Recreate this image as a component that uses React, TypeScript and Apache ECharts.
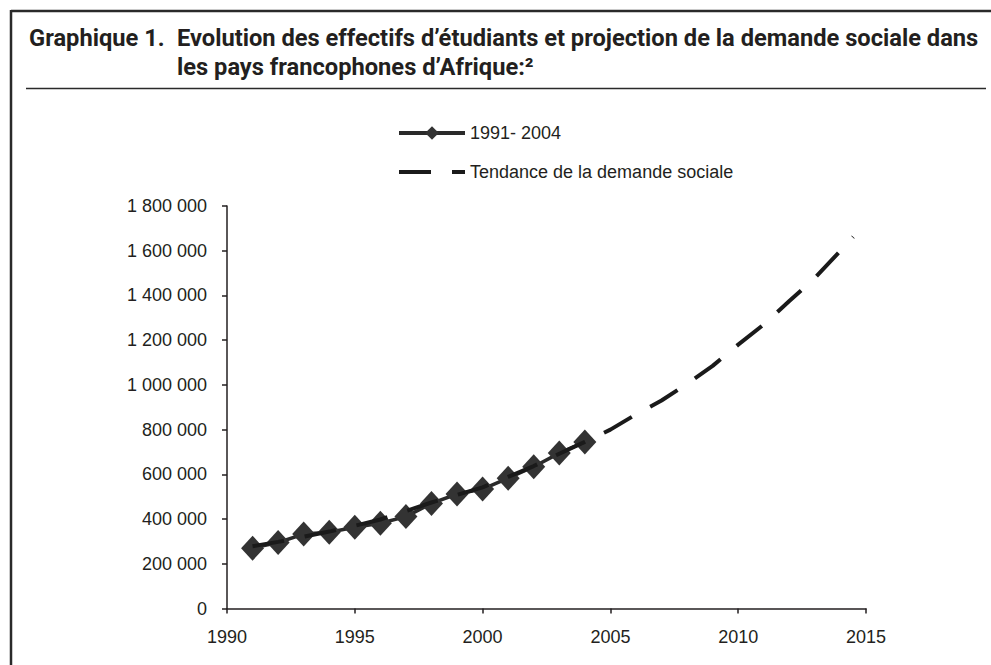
import React, { useEffect, useRef } from "react";
import * as echarts from "echarts";

const years = [1991, 1992, 1993, 1994, 1995, 1996, 1997, 1998, 1999, 2000, 2001, 2002, 2003, 2004];
const students = [270000, 295000, 333000, 341000, 363000, 381000, 411000, 470000, 512000, 534000, 583000, 634000, 695000, 745000];

const trendYears = [1991, 1992, 1993, 1994, 1995, 1996, 1997, 1998, 1999, 2000, 2001, 2002, 2003, 2004, 2005, 2006, 2007, 2008, 2009, 2010, 2011, 2012, 2013, 2014, 2014.5];
const trendValues = [278000, 298000, 321000, 344000, 370000, 398000, 436000, 474000, 508000, 542000, 589000, 637000, 692000, 745000, 800000, 868000, 930000, 1005000, 1085000, 1180000, 1270000, 1375000, 1478000, 1600000, 1662000];

const seriesNames = ["1991- 2004", "Tendance de la demande sociale"];
const titleLabel = "Graphique 1.";
const titleLine1 = "Evolution des effectifs d\u2019étudiants et projection de la demande sociale dans";
const titleLine2 = "les pays francophones d\u2019Afrique:\u00B2";

const INK = "#231f20";
const TITLE_FONT = "Roboto";
const TITLE_SIZE = 23.5;

const fmt = (v: number) => String(v).replace(/\B(?=(\d{3})+(?!\d))/g, " ");

function measure(text: string): number {
  const c = document.createElement("canvas");
  const ctx = c.getContext("2d");
  if (!ctx) return text.length * 10;
  ctx.font = `bold ${TITLE_SIZE}px ${TITLE_FONT}`;
  return ctx.measureText(text).width;
}

export default function App() {
  const ref = useRef<HTMLDivElement>(null);
  useEffect(() => {
    if (!ref.current) return;
    const chart = echarts.init(ref.current, null, { renderer: "svg" });
    const w = measure(titleLine1);
    const sx = w > 0 ? 801 / w : 0.8;
    const titleFont = {
      fontFamily: TITLE_FONT,
      fontWeight: "bold" as const,
      fontSize: TITLE_SIZE,
      fill: INK,
      verticalAlign: "middle" as const,
    };
    chart.setOption({
      animation: false,
      backgroundColor: "#ffffff",
      textStyle: { fontFamily: "Liberation Sans, Arial, sans-serif" },
      graphic: [
        { type: "line", shape: { x1: 11, y1: 11, x2: 991, y2: 11 }, style: { stroke: "#2a2a2a", lineWidth: 2.5 } },
        { type: "line", shape: { x1: 11, y1: 10, x2: 11, y2: 665 }, style: { stroke: "#2a2a2a", lineWidth: 2.5 } },
        { type: "line", shape: { x1: 26, y1: 88.5, x2: 986, y2: 88.5 }, style: { stroke: "#2a2a2a", lineWidth: 1.5 } },
        { type: "text", x: 29, y: 38.5, scaleX: sx, style: { ...titleFont, text: titleLabel } },
        { type: "text", x: 177, y: 38.5, scaleX: sx, style: { ...titleFont, text: titleLine1 } },
        { type: "text", x: 177, y: 67.5, scaleX: sx, style: { ...titleFont, text: titleLine2 } },
      ],
      legend: {
        orient: "vertical",
        left: 392,
        top: 119,
        itemWidth: 66,
        itemHeight: 17,
        itemGap: 21,
        textStyle: { fontSize: 18, color: INK, fontFamily: "Liberation Sans, Arial, sans-serif" },
        data: [
          { name: seriesNames[0], lineStyle: { width: 4 } },
          { name: seriesNames[1], itemStyle: { opacity: 0 }, lineStyle: { width: 4 } },
        ],
      },
      grid: { left: 227, top: 206, width: 639, height: 402.5, containLabel: false },
      xAxis: {
        type: "value",
        min: 1990,
        max: 2015,
        interval: 5,
        axisLine: { lineStyle: { color: INK, width: 1.5 } },
        axisTick: { show: true, length: 5, lineStyle: { color: INK, width: 1.5 } },
        axisLabel: { fontSize: 18, color: INK, margin: 19, formatter: (v: number) => String(v) },
        splitLine: { show: false },
      },
      yAxis: {
        type: "value",
        min: 0,
        max: 1800000,
        interval: 200000,
        axisLine: { show: true, lineStyle: { color: INK, width: 1.5 } },
        axisTick: { show: true, length: 5, lineStyle: { color: INK, width: 1.5 } },
        axisLabel: { fontSize: 18, color: INK, margin: 20, formatter: fmt },
        splitLine: { show: false },
      },
      series: [
        {
          name: seriesNames[0],
          type: "line",
          data: years.map((y, i) => [y, students[i]]),
          symbol: "diamond",
          symbolSize: [23, 25],
          itemStyle: { color: "#333333" },
          lineStyle: { color: "#2a2a2a", width: 3.5 },
          z: 2,
        },
        {
          name: seriesNames[1],
          type: "line",
          data: trendYears.map((y, i) => [y, trendValues[i]]),
          showSymbol: false,
          symbol: "none",
          itemStyle: { color: "#1a1a1a" },
          lineStyle: { color: "#1a1a1a", width: 4, type: [32, 21] },
          z: 3,
        },
      ],
    });
    return () => chart.dispose();
  }, []);
  return <div ref={ref} style={{ position: "absolute", left: 0, top: 0, width: 991, height: 665 }} />;
}
